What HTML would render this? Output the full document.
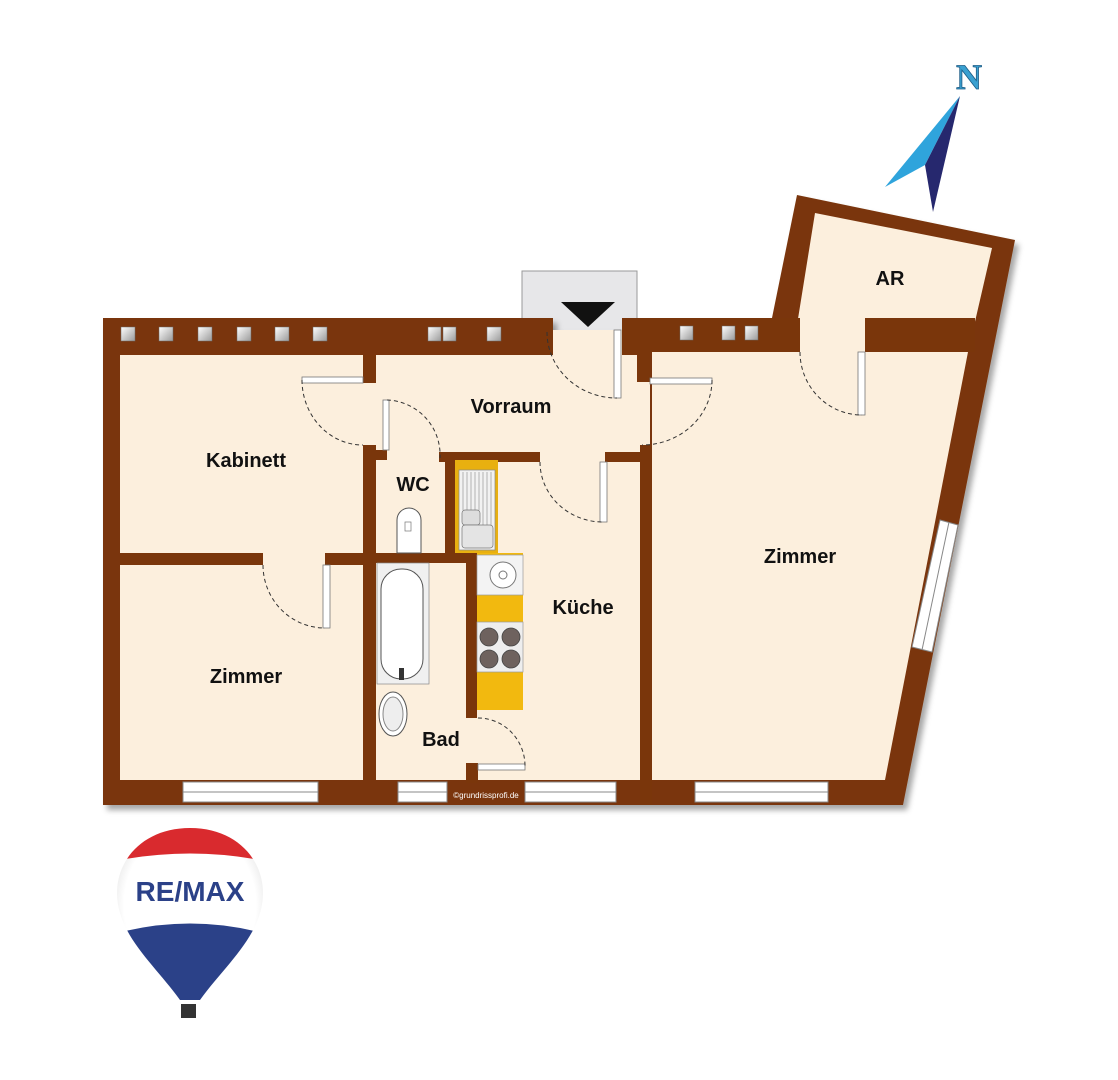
<!DOCTYPE html>
<html><head><meta charset="utf-8"><style>
html,body{margin:0;padding:0;background:#fff;width:1118px;height:1080px;overflow:hidden}
svg{display:block}
text{font-family:"Liberation Sans",sans-serif;font-weight:bold}
</style></head><body>
<svg width="1118" height="1080" viewBox="0 0 1118 1080" xmlns="http://www.w3.org/2000/svg">
<defs>
<filter id="sh" x="-5%" y="-5%" width="115%" height="115%"><feDropShadow dx="4" dy="5" stdDeviation="3" flood-color="#000" flood-opacity="0.35"/></filter>
<linearGradient id="sq" x1="0" y1="0" x2="1" y2="1"><stop offset="0" stop-color="#fff"/><stop offset="1" stop-color="#9a9a9a"/></linearGradient>
<radialGradient id="bw" cx="0.5" cy="0.45" r="0.55"><stop offset="0.75" stop-color="#fff"/><stop offset="1" stop-color="#dcdcdc"/></radialGradient>
<clipPath id="bl"><path d="M190,828 C235,828 263,858 263,893 C263,935 225,965 200,1000 L180,1000 C155,965 117,935 117,893 C117,858 145,828 190,828 Z"/></clipPath>
</defs>
<rect x="522" y="271" width="115" height="60" fill="#e7e7e9" stroke="#9a9a9a" stroke-width="1"/>
<polygon points="561,302 615,302 588,327" fill="#111"/>
<g filter="url(#sh)">
<polygon points="103,318 553,318 553,330 622,330 622,318 772,318 797,195 1015,240 903,805 103,805" fill="#7a360b"/>
</g>
<g fill="#fcefdd">
<polygon points="120,355 540,355 540,330 625,330 625,355 650,355 650,780 120,780"/>
<polygon points="652,352 797,352 797,325 815,213 992,248 968,352 885,780 652,780"/>
</g>
<g fill="#7a360b">
<rect x="363" y="355" width="13" height="28"/>
<rect x="540" y="318" width="13" height="37"/>
<rect x="622" y="318" width="28" height="37"/>
<rect x="637" y="352" width="13" height="30"/>
<rect x="865" y="318" width="110" height="34"/>
<rect x="622" y="318" width="178" height="34"/>
<polygon points="772,318 797,318 797,340 800,340 800,352 772,352"/>
<rect x="640" y="445" width="12" height="360"/>
<rect x="363" y="445" width="13" height="335"/>
<rect x="363" y="450" width="24" height="10"/>
<rect x="439" y="452" width="101" height="10"/>
<rect x="445" y="452" width="10" height="110"/>
<rect x="605" y="452" width="45" height="10"/>
<rect x="120" y="553" width="143" height="12"/>
<rect x="325" y="553" width="50" height="12"/>
<rect x="363" y="553" width="115" height="10"/>
<rect x="466" y="553" width="11" height="165"/>
<rect x="466" y="763" width="12" height="20"/>
</g>
<g fill="url(#sq)" stroke="#6a6a6a" stroke-width="0.5">
<rect x="121" y="327" width="14" height="14"/><rect x="159" y="327" width="14" height="14"/><rect x="198" y="327" width="14" height="14"/><rect x="237" y="327" width="14" height="14"/><rect x="275" y="327" width="14" height="14"/><rect x="313" y="327" width="14" height="14"/><rect x="428" y="327" width="13" height="14"/><rect x="443" y="327" width="13" height="14"/><rect x="487" y="327" width="14" height="14"/><rect x="680" y="326" width="13" height="14"/><rect x="722" y="326" width="13" height="14"/><rect x="745" y="326" width="13" height="14"/>
</g>
<g fill="#fff" stroke="#888" stroke-width="1">
<rect x="183" y="782" width="135" height="20"/><line x1="183" y1="792" x2="318" y2="792"/>
<rect x="398" y="782" width="49" height="20"/><line x1="398" y1="792" x2="447" y2="792"/>
<rect x="525" y="782" width="91" height="20"/><line x1="525" y1="792" x2="616" y2="792"/>
<rect x="695" y="782" width="133" height="20"/><line x1="695" y1="792" x2="828" y2="792"/>
<polygon points="940,520 958,525 932,652 912,647"/><line x1="949" y1="522" x2="922" y2="650"/>
</g>
<text x="486" y="798" font-size="8" fill="#fff" style="font-weight:normal" text-anchor="middle">©grundrissprofi.de</text>
<g fill="#fff" stroke="#777" stroke-width="0.8">
<rect x="302" y="377" width="61" height="6"/>
<rect x="383" y="400" width="6" height="50"/>
<rect x="614" y="330" width="7" height="68"/>
<rect x="650" y="378" width="62" height="6"/>
<rect x="858" y="352" width="7" height="63"/>
<rect x="600" y="462" width="7" height="60"/>
<rect x="323" y="565" width="7" height="63"/>
<rect x="478" y="764" width="47" height="6"/>
</g>
<g fill="none" stroke="#333" stroke-width="1" stroke-dasharray="4,3">
<path d="M302,380 A61,65 0 0 0 363,445"/>
<path d="M387,400 A55,55 0 0 1 440,458"/>
<path d="M547,332 A70,66 0 0 0 617,398"/>
<path d="M712,380 A70,65 0 0 1 642,445"/>
<path d="M800,352 A62,63 0 0 0 862,415"/>
<path d="M540,462 A63,60 0 0 0 603,522"/>
<path d="M263,565 A62,63 0 0 0 325,628"/>
<path d="M478,718 A47,48 0 0 1 525,766"/>
</g>
<rect x="455" y="460" width="43" height="93" fill="#e8b010"/>
<rect x="459" y="470" width="36" height="80" fill="#f2f2f2" stroke="#888" stroke-width="0.7"/>
<g stroke="#999" stroke-width="0.7"><line x1="463" y1="472" x2="463" y2="510"/><line x1="467" y1="472" x2="467" y2="510"/><line x1="471" y1="472" x2="471" y2="510"/><line x1="475" y1="472" x2="475" y2="510"/><line x1="479" y1="472" x2="479" y2="510"/><line x1="483" y1="472" x2="483" y2="525"/><line x1="487" y1="472" x2="487" y2="525"/><line x1="491" y1="472" x2="491" y2="525"/></g>
<rect x="462" y="510" width="18" height="15" rx="3" fill="#ddd" stroke="#777" stroke-width="0.7"/>
<rect x="462" y="525" width="31" height="23" rx="3" fill="#e4e4e4" stroke="#777" stroke-width="0.7"/>
<rect x="477" y="553" width="46" height="157" fill="#f2b90f"/>
<rect x="477" y="555" width="46" height="40" fill="#f3f3f3" stroke="#999" stroke-width="0.7"/>
<circle cx="503" cy="575" r="13" fill="#fff" stroke="#777"/><circle cx="503" cy="575" r="4" fill="none" stroke="#777"/>
<rect x="477" y="622" width="46" height="50" fill="#eee" stroke="#999" stroke-width="0.7"/>
<g fill="#6e625e" stroke="#444" stroke-width="0.8"><circle cx="489" cy="637" r="9"/><circle cx="511" cy="637" r="9"/><circle cx="489" cy="659" r="9"/><circle cx="511" cy="659" r="9"/></g>
<rect x="377" y="563" width="52" height="121" fill="#f0f0f0" stroke="#888" stroke-width="0.7"/>
<rect x="381" y="569" width="42" height="110" rx="20" fill="#fff" stroke="#555"/>
<rect x="399" y="668" width="5" height="12" fill="#333"/>
<ellipse cx="393" cy="714" rx="14" ry="22" fill="#fff" stroke="#555"/>
<ellipse cx="393" cy="714" rx="10" ry="17" fill="#eee" stroke="#888"/>
<path d="M397,553 L397,520 A12,12 0 0 1 421,520 L421,553 Z" fill="#fff" stroke="#555"/>
<rect x="405" y="522" width="6" height="9" fill="none" stroke="#777" stroke-width="0.7"/>
<g fill="#111" font-size="20">
<text x="511" y="413" text-anchor="middle">Vorraum</text>
<text x="246" y="467" text-anchor="middle">Kabinett</text>
<text x="413" y="491" text-anchor="middle">WC</text>
<text x="583" y="614" text-anchor="middle">Küche</text>
<text x="246" y="683" text-anchor="middle">Zimmer</text>
<text x="441" y="746" text-anchor="middle">Bad</text>
<text x="800" y="563" text-anchor="middle">Zimmer</text>
<text x="890" y="285" text-anchor="middle">AR</text>
</g>
<text x="969" y="89" style="font-family:'Liberation Serif',serif;font-weight:bold" font-size="36" fill="#3aa0d0" stroke="#1d5c86" stroke-width="0.8" text-anchor="middle">N</text>
<polygon points="960,96 885,187 925,165" fill="#2fa4dc"/>
<polygon points="960,96 925,165 933,212" fill="#26286e"/>
<g clip-path="url(#bl)">
<rect x="110" y="820" width="160" height="190" fill="url(#bw)"/>
<path d="M110,820 L270,820 L270,862 Q190,845 110,862 Z" fill="#d92a2e"/>
<path d="M110,935 Q190,912 270,935 L270,1010 L110,1010 Z" fill="#2b4188"/>
</g>
<rect x="181" y="1004" width="15" height="14" fill="#333"/>
<text x="190" y="901" font-size="28" fill="#2b4188" text-anchor="middle">RE/MAX</text>
</svg>
</body></html>
